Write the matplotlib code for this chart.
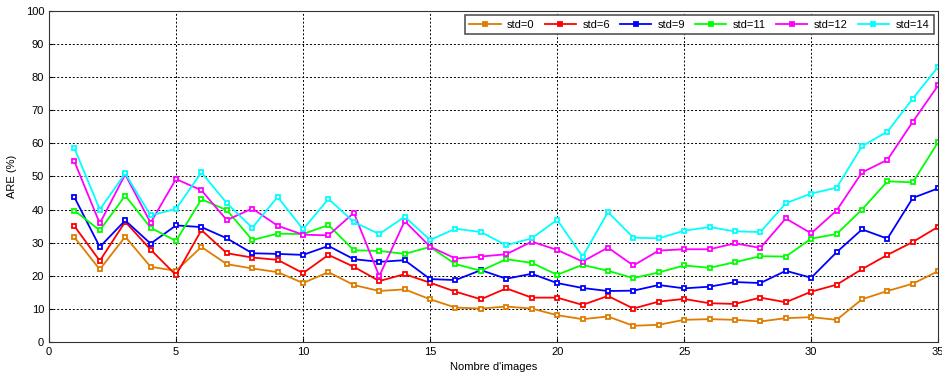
import matplotlib.pyplot as plt

plt.rcParams['font.family'] = ['Liberation Sans', 'DejaVu Sans']

# number of images on the x axis
n_images = list(range(1, 36))

std0 = [31.6, 21.9, 31.8, 22.7, 21.5, 28.7, 23.5, 22.2, 21.1, 17.8,
        21.1, 17.2, 15.4, 15.9, 12.9, 10.4, 10.1, 10.7, 10.1, 8.1,
        6.9, 7.7, 4.9, 5.2, 6.7, 6.9, 6.7, 6.2, 7.2, 7.5,
        6.7, 12.9, 15.4, 17.6, 21.4]
std6 = [35.0, 24.5, 36.3, 27.9, 20.2, 33.8, 26.8, 25.5, 24.8, 20.8,
        26.3, 22.7, 18.4, 20.5, 17.9, 15.2, 12.9, 16.2, 13.4, 13.4,
        11.2, 13.9, 10.1, 12.2, 13.0, 11.7, 11.5, 13.4, 12.0, 15.2,
        17.3, 22.0, 26.3, 30.2, 34.8]
std9 = [43.7, 28.7, 36.7, 29.7, 35.2, 34.7, 31.3, 26.8, 26.6, 26.3,
        29.0, 25.0, 24.2, 24.7, 19.0, 18.7, 21.7, 19.1, 20.6, 17.8,
        16.3, 15.4, 15.5, 17.2, 16.2, 16.7, 18.1, 17.8, 21.5, 19.4,
        27.1, 34.0, 31.2, 43.5, 46.4]
std11 = [39.7, 33.7, 44.2, 34.5, 30.5, 43.1, 39.8, 30.8, 32.7, 32.6,
         35.3, 27.7, 27.5, 26.6, 28.7, 23.5, 21.5, 25.0, 23.9, 20.3,
         23.3, 21.5, 19.3, 21.0, 23.1, 22.4, 24.1, 25.9, 25.8, 31.2,
         32.6, 40.0, 48.5, 48.2, 60.4]
std12 = [54.5, 35.8, 50.6, 36.0, 49.2, 45.8, 36.8, 40.3, 35.1, 32.4,
         32.2, 39.0, 19.9, 36.5, 28.8, 25.2, 25.8, 26.5, 30.3, 27.8,
         24.3, 28.5, 23.1, 27.6, 28.0, 28.0, 29.8, 28.4, 37.3, 32.8,
         39.7, 51.2, 55.0, 66.5, 77.5]
std14 = [58.5, 40.0, 50.9, 38.2, 40.2, 51.2, 41.9, 34.5, 43.8, 34.0,
         43.2, 36.2, 32.6, 37.8, 30.8, 34.2, 33.2, 29.2, 31.3, 36.9,
         25.8, 39.2, 31.5, 31.3, 33.6, 34.7, 33.4, 33.2, 41.9, 44.8,
         46.6, 59.1, 63.5, 73.5, 83.1]

series = [std0, std6, std9, std11, std12, std14]
labels = ['std=0', 'std=6', 'std=9', 'std=11', 'std=12', 'std=14']
colors = ['#DE7D00', '#FF0000', '#0000FF', '#00FF00', '#FF00FF', '#00FFFF']

fig = plt.figure(figsize=(9.42, 3.76), dpi=100)
ax = fig.add_axes([0.052, 0.0904, 0.944, 0.881])

for vals, lab, c in zip(series, labels, colors):
    ax.plot(n_images, vals, color=c, lw=1.3, marker='s', markersize=3.5,
            markerfacecolor='white', markeredgecolor=c, markeredgewidth=1.3,
            label=lab)

ax.set_xlim(0, 35)
ax.set_ylim(0, 100)
ax.set_xticks(range(0, 36, 5))
ax.set_yticks(range(0, 101, 10))
ax.grid(True, color='black', linestyle=(0, (2, 2)), linewidth=0.7)
ax.tick_params(direction='in', labelsize=8, length=3)
for s in ax.spines.values():
    s.set_color('#333333')

ax.set_xlabel("Nombre d'images", fontsize=8, labelpad=4)
ax.set_ylabel('ARE (%)', fontsize=8, labelpad=6)

leg = ax.legend(loc='upper right', ncol=6, fontsize=8, fancybox=False,
                edgecolor='#555555', framealpha=1, handlelength=2.8,
                handletextpad=0.6, columnspacing=0.9, borderaxespad=0.4,
                borderpad=0.4)
leg.get_frame().set_linewidth(1.2)
for h in leg.get_lines():
    h.set_markerfacecolor(h.get_color())

fig.savefig('out.png', dpi=100)
